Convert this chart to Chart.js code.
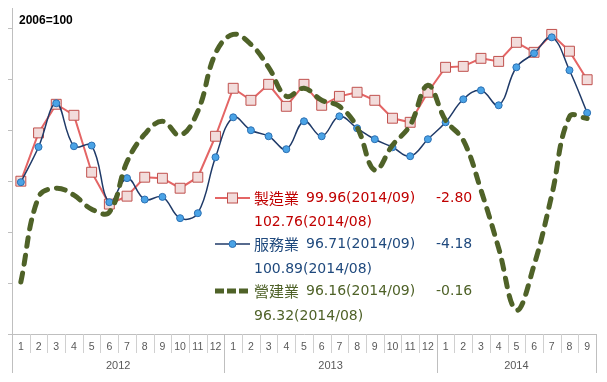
<!DOCTYPE html>
<html><head><meta charset="utf-8">
<script src="https://cdn.jsdelivr.net/npm/chart.js@4/dist/chart.umd.min.js"></script>
<style>html,body{margin:0;padding:0;background:#fff;}#wrap{width:607px;height:382px;position:relative;}</style>
</head><body><div id="wrap"><canvas id="c" width="607" height="382"></canvas></div>
<script>
const months = ['1','2','3','4','5','6','7','8','9','10','11','12','1','2','3','4','5','6','7','8','9','10','11','12','1','2','3','4','5','6','7','8','9'];
const years = ['2012','2013','2014'];
const yearSpans = [12,12,9];
const manufacturing = [90.0,94.74,97.55,96.47,90.88,87.75,88.53,90.39,90.29,89.31,90.39,94.41,99.12,97.94,99.51,97.35,99.51,97.45,98.33,98.73,97.94,96.18,95.78,98.73,101.18,101.27,102.06,101.76,103.63,102.65,104.41,102.76,99.96];
const services = [89.9,93.36,97.65,93.43,93.5,87.94,90.3,88.2,88.46,86.37,86.86,92.35,96.27,95.0,94.41,93.14,95.88,94.41,96.37,95.2,94.12,93.33,92.45,94.12,95.78,98.04,98.92,97.45,101.18,102.55,104.12,100.89,96.71];
const construction = [80.1,88.43,89.31,88.63,87.25,86.96,91.9,94.61,95.88,94.51,96.86,102.55,104.41,103.43,101.18,98.33,99.12,97.94,97.35,95.29,91.08,93.53,95.49,99.41,95.98,94.02,89.12,83.43,77.35,81.76,88.63,96.32,96.16];
const yTicks = [75,80,85,90,95,100,105];
const seriesNames = ['製造業','服務業','營建業'];
const latestText = ['99.96(2014/09)','96.71(2014/09)','96.16(2014/09)'];
const prevText = ['102.76(2014/08)','100.89(2014/08)','96.32(2014/08)'];
const changeText = ['-2.80','-4.18','-0.16'];
const baseNote = '2006=100';

const C_MFG_LINE = '#E46565', C_MFG_PT_BG = '#F2DCDB', C_MFG_PT_BD = '#C0504D';
const C_SRV_LINE = '#1F3A68', C_SRV_PT_BG = '#4AA3E6', C_SRV_PT_BD = '#2B6FB2';
const C_CON = '#4F6228';
const textColors = ['#C00000', '#1F497D', '#4F6228'];
const AXIS = '#BFBFBF';

const decoPlugin = {
  id: 'deco',
  afterDraw(chart) {
    const ctx = chart.ctx, area = chart.chartArea;
    const n = months.length, w = (area.right - area.left) / n;
    ctx.save();
    ctx.strokeStyle = '#D0D0D0'; ctx.lineWidth = 1;
    for (let i = 1; i < n; i++) {
      const x = Math.round(area.left + i * w) + 0.5;
      ctx.beginPath(); ctx.moveTo(x, area.bottom); ctx.lineTo(x, area.bottom + 19); ctx.stroke();
    }
    ctx.strokeStyle = AXIS;
    let idx = 0;
    const bounds = [0];
    yearSpans.forEach(s => { idx += s; bounds.push(idx); });
    bounds.forEach(b => {
      const x = Math.round(area.left + b * w) + 0.5;
      ctx.beginPath(); ctx.moveTo(x, area.bottom); ctx.lineTo(x, area.bottom + 39); ctx.stroke();
    });
    ctx.font = '11px "Liberation Sans", Arial, sans-serif';
    ctx.fillStyle = '#595959'; ctx.textAlign = 'center'; ctx.textBaseline = 'middle';
    for (let k = 0; k < years.length; k++) {
      const cx = area.left + (bounds[k] + bounds[k + 1]) / 2 * w;
      ctx.fillText(years[k], cx, 366);
    }
    ctx.font = 'bold 12px "Liberation Sans", Arial, sans-serif';
    ctx.fillStyle = '#000'; ctx.textAlign = 'left';
    ctx.fillText(baseNote, 19, 21);
    const rowY = [198, 244, 291];
    const prevY = [222, 269, 316];
    for (let k = 0; k < 3; k++) {
      const y = rowY[k];
      if (k === 0) {
        ctx.strokeStyle = C_MFG_LINE; ctx.lineWidth = 2; ctx.setLineDash([]);
        ctx.beginPath(); ctx.moveTo(215, y); ctx.lineTo(250, y); ctx.stroke();
        ctx.fillStyle = C_MFG_PT_BG; ctx.strokeStyle = C_MFG_PT_BD; ctx.lineWidth = 1;
        ctx.fillRect(227.5, y - 5, 10, 10); ctx.strokeRect(227.5, y - 5, 10, 10);
      } else if (k === 1) {
        ctx.strokeStyle = C_SRV_LINE; ctx.lineWidth = 1.5; ctx.setLineDash([]);
        ctx.beginPath(); ctx.moveTo(215, y); ctx.lineTo(250, y); ctx.stroke();
        ctx.fillStyle = C_SRV_PT_BG; ctx.strokeStyle = C_SRV_PT_BD; ctx.lineWidth = 1;
        ctx.beginPath(); ctx.arc(232.5, y, 3.5, 0, Math.PI * 2); ctx.fill(); ctx.stroke();
      } else {
        ctx.strokeStyle = C_CON; ctx.lineWidth = 5; ctx.setLineDash([9, 3]); ctx.lineCap = 'butt';
        ctx.beginPath(); ctx.moveTo(215, y); ctx.lineTo(250, y); ctx.stroke();
        ctx.setLineDash([]);
      }
      ctx.fillStyle = textColors[k]; ctx.textAlign = 'left'; ctx.textBaseline = 'middle';
      ctx.font = '15px "Noto Sans CJK TC", sans-serif';
      ctx.fillText(seriesNames[k], 254, y);
      ctx.font = '14px "DejaVu Sans", sans-serif';
      ctx.fillText(latestText[k], 306, y);
      ctx.fillText(changeText[k], 436, y);
      ctx.fillText(prevText[k], 254, prevY[k]);
    }
    ctx.restore();
  }
};

new Chart(document.getElementById('c'), {
  type: 'line',
  data: {
    labels: months,
    datasets: [
      { label: seriesNames[0], data: manufacturing, order: 2, borderColor: C_MFG_LINE, borderWidth: 2, tension: 0,
        pointStyle: 'rect', pointRadius: 7, pointBackgroundColor: C_MFG_PT_BG, pointBorderColor: C_MFG_PT_BD, pointBorderWidth: 1 },
      { label: seriesNames[1], data: services, order: 1, borderColor: C_SRV_LINE, borderWidth: 1.5, tension: 0.4,
        pointStyle: 'circle', pointRadius: 3.5, pointBackgroundColor: C_SRV_PT_BG, pointBorderColor: C_SRV_PT_BD, pointBorderWidth: 1 },
      { label: seriesNames[2], data: construction, order: 0, borderColor: C_CON, borderWidth: 5, tension: 0.4,
        borderDash: [9, 9], borderCapStyle: 'round', pointRadius: 0 }
    ]
  },
  options: {
    responsive: false, animation: false, devicePixelRatio: 1,
    layout: { padding: { left: 8, top: 8, right: 11, bottom: 0 } },
    plugins: { legend: { display: false }, tooltip: { enabled: false } },
    scales: {
      x: {
        offset: true,
        grid: { display: true, drawOnChartArea: false, drawTicks: false },
        border: { color: AXIS },
        ticks: { autoSkip: false, maxRotation: 0, padding: 7, color: '#595959', font: { family: '"Liberation Sans", Arial, sans-serif', size: 10.5 } },
        afterFit(s) { s.height = 48; }
      },
      y: {
        min: 75, max: 107,
        afterBuildTicks(s) { s.ticks = yTicks.map(v => ({ value: v })); },
        grid: { display: true, drawOnChartArea: false, drawTicks: true, tickLength: 4, color: AXIS },
        border: { color: AXIS },
        ticks: { display: false },
        afterFit(s) { s.width = 4; }
      }
    }
  },
  plugins: [decoPlugin]
});
</script></body></html>
